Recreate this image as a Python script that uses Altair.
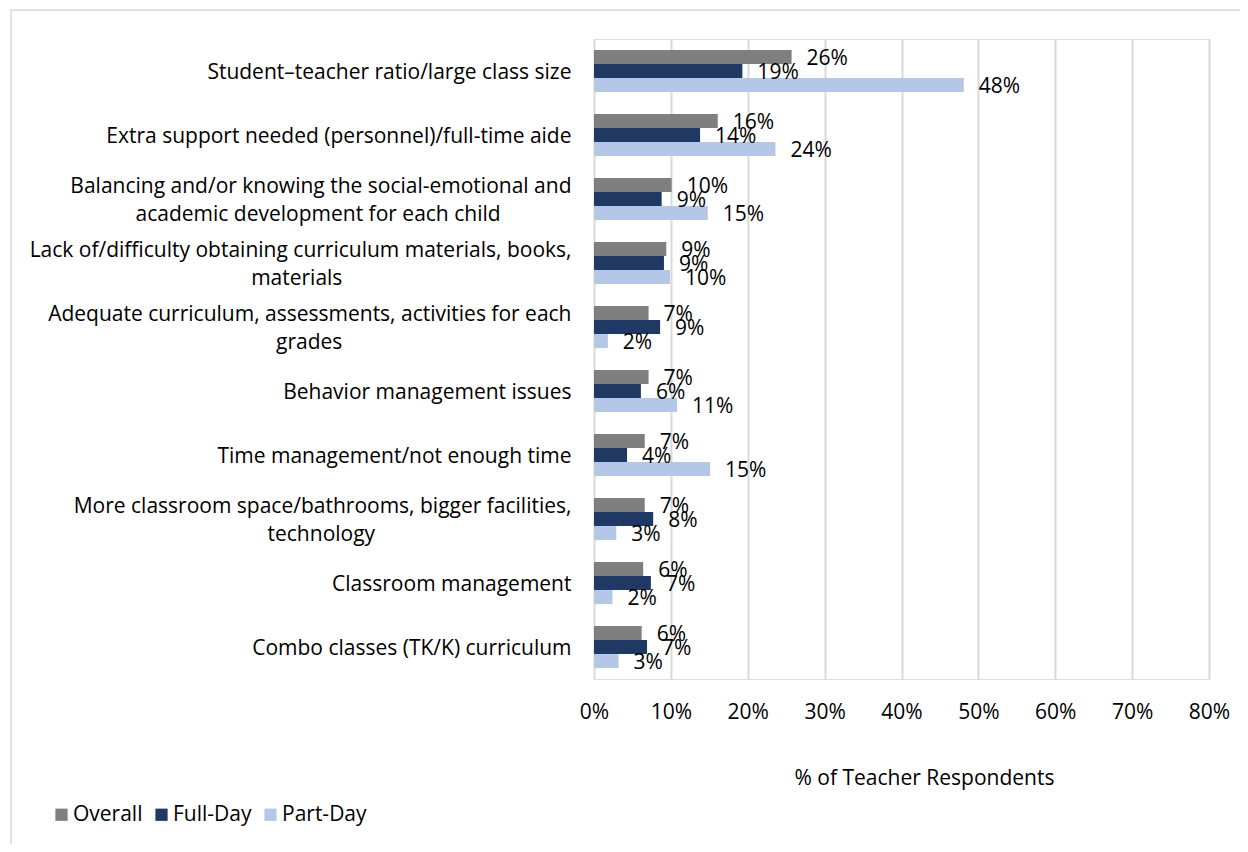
import altair as alt
import pandas as pd

categories = [
    "Student\u2013teacher ratio/large class size",
    "Extra support needed (personnel)/full-time aide",
    "Balancing and/or knowing the social-emotional and\nacademic development for each child",
    "Lack of/difficulty obtaining curriculum materials, books,\nmaterials",
    "Adequate curriculum, assessments, activities for each\ngrades",
    "Behavior management issues",
    "Time management/not enough time",
    "More classroom space/bathrooms, bigger facilities,\ntechnology",
    "Classroom management",
    "Combo classes (TK/K) curriculum",
]
series = ["Overall", "Full-Day", "Part-Day"]
overall = [0.257, 0.161, 0.101, 0.094, 0.071, 0.071, 0.066, 0.066, 0.064, 0.062]
full_day = [0.193, 0.138, 0.088, 0.091, 0.086, 0.061, 0.043, 0.077, 0.074, 0.069]
part_day = [0.481, 0.236, 0.148, 0.099, 0.018, 0.108, 0.151, 0.029, 0.024, 0.032]
colors = ["#7f7f7f", "#203864", "#b4c7e7"]
x_ticks = [0, 0.1, 0.2, 0.3, 0.4, 0.5, 0.6, 0.7, 0.8]

# trailing non-breaking spaces (closed by a zero-width space so they are not trimmed)
# so that wrapped second lines sit centred under the first line
second_line_pad = {2: 13, 3: 42, 4: 42, 7: 36}


def display_label(i, c):
    if "\n" in c:
        a, b = c.split("\n")
        return a + "\n" + b + "\u00a0" * second_line_pad.get(i, 0) + "\u200b"
    return c


display = [display_label(i, c) for i, c in enumerate(categories)]

rows = []
for i, c in enumerate(display):
    for s, vals in zip(series, [overall, full_day, part_day]):
        rows.append({"category": c, "series": s, "value": vals[i]})
df = pd.DataFrame(rows)

FONT = "Open Sans"
FS = 21

y_enc = alt.Y(
    "category:N",
    sort=display,
    title=None,
    scale=alt.Scale(paddingInner=0.34, paddingOuter=0.17),
    axis=alt.Axis(
        labelExpr="split(datum.label, '\\n')",
        labelFontSize=FS,
        labelFont=FONT,
        labelColor="#000000",
        labelPadding=23,
        labelLineHeight=28,
        labelLimit=700,
        labelOffset={
            "condition": {"test": "indexof(datum.label, '\\n') >= 0", "value": -12},
            "value": 2,
        },
        ticks=False,
        domain=False,
        grid=False,
    ),
)
x_enc = alt.X(
    "value:Q",
    scale=alt.Scale(domain=[0, 0.8], nice=False),
    axis=alt.Axis(
        values=x_ticks,
        format=".0%",
        title="% of Teacher Respondents",
        titleFont=FONT,
        titleFontSize=FS,
        titleFontWeight="normal",
        titleColor="#000000",
        titlePadding=45,
        titleX=330,
        labelFont=FONT,
        labelFontSize=FS,
        labelColor="#000000",
        labelPadding=22,
        labelFlush=False,
        ticks=False,
        domain=False,
        grid=True,
        gridColor="#d9d9d9",
        gridWidth=2,
    ),
)
yoff = alt.YOffset("series:N", sort=series)

bars = alt.Chart(df).mark_bar(size=14).encode(
    x=x_enc,
    y=y_enc,
    yOffset=yoff,
    color=alt.Color(
        "series:N",
        sort=series,
        scale=alt.Scale(domain=series, range=colors),
        legend=alt.Legend(
            title=None,
            orient="none",
            legendX=-543,
            legendY=765,
            direction="horizontal",
            symbolType="square",
            symbolSize=150,
            symbolStrokeWidth=0,
            labelFont=FONT,
            labelFontSize=FS,
            labelColor="#000000",
            columnPadding=8,
            symbolOffset=0,
            labelOffset=1,
        ),
    ),
)

labels = alt.Chart(df).mark_text(
    align="left", baseline="middle", dx=15, dy=2, font=FONT, fontSize=FS, color="#000000"
).encode(
    x="value:Q",
    y=alt.Y("category:N", sort=display),
    yOffset=yoff,
    text=alt.Text("value:Q", format=".0%"),
)

frame = alt.Chart(pd.DataFrame({"k": [0]})).mark_rect(
    fill=None, stroke="#d9d9d9", strokeWidth=1.5
).encode(
    x=alt.value(-583), x2=alt.value(700), y=alt.value(-29), y2=alt.value(900)
)

chart = (
    alt.layer(frame, bars, labels)
    .properties(
        width=615,
        height=640,
        autosize=alt.AutoSizeParams(type="none"),
        padding={"left": 586, "top": 31, "right": 31, "bottom": 165},
    )
    .configure_view(stroke=None)
    .configure(background="white")
)

chart.save("out.html", embed_options={"renderer": "svg", "actions": False})
